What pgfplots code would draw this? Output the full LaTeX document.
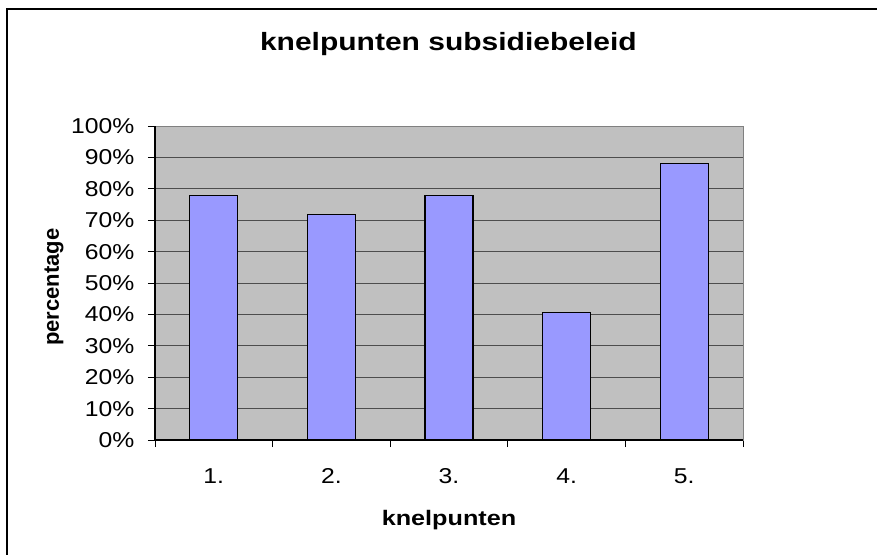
\documentclass[border=0pt]{standalone}
\usepackage{fontspec}
\setmainfont{Liberation Sans}[FakeStretch=1.2]
\newfontfamily\plainsans{Liberation Sans}
\newfontfamily\tickfont{Liberation Sans}[FakeStretch=1.15]
\usepackage{pgfplots}
\pgfplotsset{compat=1.18}
\definecolor{plotbg}{HTML}{C0C0C0}
\definecolor{barfill}{HTML}{9999FF}
\definecolor{gridcol}{HTML}{4D4D4D}
\definecolor{framecol}{HTML}{808080}
\begin{document}
\begin{tikzpicture}[x=1pt,y=1pt]
\path[use as bounding box] (0,0) rectangle (877,-554);
\draw[black, line width=1.6pt] (7,-560) -- (7,-9) -- (885,-9);
\begin{axis}[
  at={(155pt,-440pt)}, anchor=south west,
  scale only axis, width=588pt, height=314pt,
  xmin=0.5, xmax=5.5, ymin=0, ymax=100,
  axis background/.style={fill=plotbg},
  axis line style={draw=framecol, line width=1pt},
  /pgf/number format/assume math mode=true,
  xtick={1,2,3,4,5},
  xticklabels={1.,2.,3.,4.,5.},
  major x tick style={draw=none},
  minor xtick={0.5,1.5,2.5,3.5,4.5,5.5},
  minor x tick style={black, line width=0.8pt},
  minor tick length=7pt,
  ytick={0,10,...,100},
  yticklabels={0\%,10\%,20\%,30\%,40\%,50\%,60\%,70\%,80\%,90\%,100\%},
  major y tick style={black, line width=0.8pt},
  major tick length=7pt,
  tick align=outside,
  xtick pos=bottom, ytick pos=left,
  ymajorgrids,
  grid style={gridcol, line width=1pt},
  tick label style={font=\tickfont\fontsize{21.5pt}{25pt}\selectfont},
  xticklabel style={anchor=base, yshift=-36.5pt},
  yticklabel style={anchor=east, xshift=-10pt},
  title={\bfseries knelpunten subsidiebeleid},
  title style={at={(axis description cs:0.499,1.2207)}, anchor=base, font=\fontsize{25pt}{30pt}\selectfont},
  xlabel={\bfseries knelpunten},
  xlabel style={at={(axis description cs:0.5,-0.2707)}, anchor=base, font=\fontsize{21pt}{25pt}\selectfont},
  ylabel={\plainsans\bfseries percentage},
  ylabel style={at={(axis description cs:-0.1633,0.487)}, anchor=base, rotate=0, font=\fontsize{22pt}{26pt}\selectfont},
  clip=false,
]
\addplot[ybar, bar width=48pt, fill=barfill, draw=black, line width=1.3pt]
  coordinates {(1,77.8) (2,71.9) (3,77.8) (4,40.7) (5,88.1)};
\draw[black, line width=1.2pt] (rel axis cs:0,1) -- (rel axis cs:0,0) -- (rel axis cs:1,0);
\end{axis}
\end{tikzpicture}
\end{document}
